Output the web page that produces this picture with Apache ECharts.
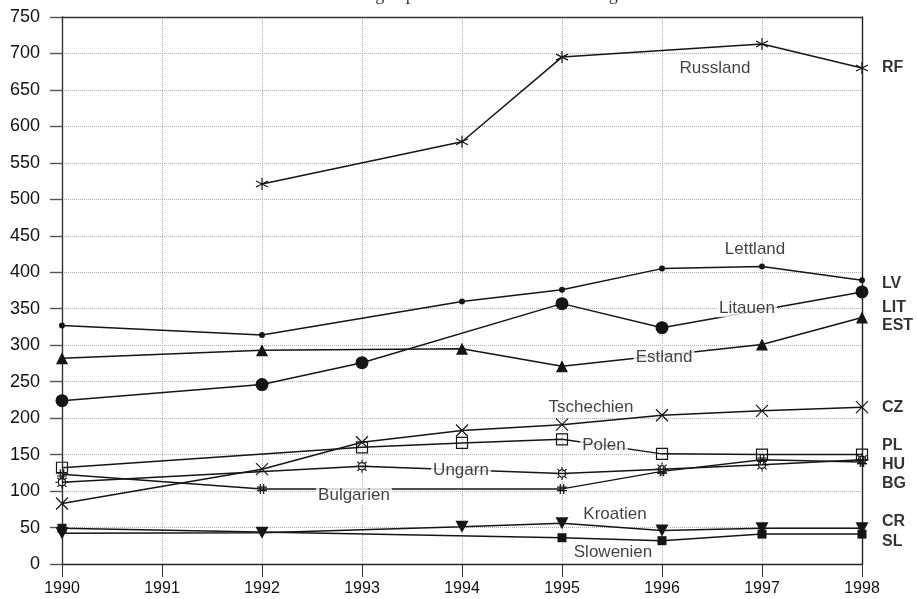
<!DOCTYPE html>
<html>
<head>
<meta charset="utf-8">
<script src="https://cdn.jsdelivr.net/npm/echarts@6/dist/echarts.min.js"></script>
<style>
html,body{margin:0;padding:0;background:#fff;}
#chart{width:917px;height:599px;}
</style>
</head>
<body>
<div id="chart"></div>
<script>
// ---- data ----
var years = [1990, 1991, 1992, 1993, 1994, 1995, 1996, 1997, 1998];
var yTicks = [0, 50, 100, 150, 200, 250, 300, 350, 400, 450, 500, 550, 600, 650, 700, 750];
var russland   = [null, null, 521, null, 579, 695, null, 713, 680];
var lettland   = [327, null, 314, null, 360, 376, 405, 408, 389];
var litauen    = [224, null, 246, 276, null, 357, 324, null, 373];
var estland    = [282, null, 293, null, 295, 271, null, 301, 338];
var tschechien = [83, null, 130, 167, 183, 191, 204, 210, 215];
var polen      = [132, null, null, 160, 166, 171, 151, 150, 150];
var ungarn     = [112, null, null, 134, null, 124, 130, 136, 143];
var bulgarien  = [123, null, 103, null, null, 103, 127, 143, 140];
var kroatien   = [42, null, 43, null, 51, 56, 46, 49, 49];
var slowenien  = [49, null, null, null, null, 36, 32, 41, 41];

var seriesNames = ['Russland', 'Lettland', 'Litauen', 'Estland', 'Tschechien', 'Polen', 'Ungarn', 'Bulgarien', 'Kroatien', 'Slowenien'];
var seriesCodes = ['RF', 'LV', 'LIT', 'EST', 'CZ', 'PL', 'HU', 'BG', 'CR', 'SL'];
var seriesValues = [russland, lettland, litauen, estland, tschechien, polen, ungarn, bulgarien, kroatien, slowenien];

// ---- annotation anchors (data coordinates) ----
var nameAnchors = [
  [1996.53, 680], [1996.93, 431], [1996.85, 350], [1996.02, 284], [1995.29, 215.5],
  [1995.42, 163.4], [1993.99, 127.8], [1992.92, 93.6], [1995.53, 67.5], [1995.51, 15.9]
];
var codeAnchors = [680, 384, 351, 327, 214, 162, 136, 110, 58, 31];

// ---- styling ----
var INK = '#151515';
var symbols = [
  {symbol: 'path://M5,0L5,10M0.7,2.5L9.3,7.5M0.7,7.5L9.3,2.5', size: 12, fill: 'none'},
  {symbol: 'circle', size: 6, fill: INK},
  {symbol: 'circle', size: 13, fill: INK},
  {symbol: 'triangle', size: 12, fill: INK},
  {symbol: 'path://M0,0L10,10M0,10L10,0', size: 12, fill: 'none'},
  {symbol: 'rect', size: 11, fill: 'rgba(255,255,255,0)'},
  {symbol: 'path://M7.8,5A2.8,2.8 0 1 1 2.2,5A2.8,2.8 0 1 1 7.8,5ZM5,0L5,1.6M5,8.4L5,10M0,5L1.6,5M8.4,5L10,5M1.5,1.5L2.7,2.7M7.3,7.3L8.5,8.5M1.5,8.5L2.7,7.3M7.3,2.7L8.5,1.5', size: 13, fill: 'rgba(255,255,255,0)'},
  {symbol: 'path://M3.3,0L3.3,10M6.7,0L6.7,10M0,3.3L10,3.3M0,6.7L10,6.7', size: 10, fill: 'none'},
  {symbol: 'path://M0,0L10,0L5,8.7Z', size: [13, 12], fill: INK},
  {symbol: 'rect', size: 9, fill: INK}
];

var series = [];
seriesNames.forEach(function (name, i) {
  var pts = [];
  years.forEach(function (yr, j) {
    if (seriesValues[i][j] !== null) pts.push([yr, seriesValues[i][j]]);
  });
  var s = symbols[i];
  series.push({
    name: name,
    type: 'line',
    data: pts,
    symbol: s.symbol,
    symbolSize: s.size,
    showSymbol: true,
    animation: false,
    lineStyle: {color: INK, width: 1.5},
    itemStyle: {color: s.fill, borderColor: INK, borderWidth: (s.fill === INK ? 0 : 1.2)},
    z: 3
  });
});

// in-plot names
series.push({
  type: 'scatter',
  animation: false,
  silent: true,
  clip: false,
  symbolSize: 0,
  z: 10,
  data: seriesNames.map(function (n, i) { return {name: n, value: nameAnchors[i]}; }),
  label: {
    show: true,
    position: 'inside',
    formatter: '{b}',
    color: '#111',
    fontFamily: 'Liberation Sans, Arial, sans-serif',
    fontSize: 17,
    backgroundColor: '#ffffff',
    padding: [0, 2]
  }
});

// right-side codes
series.push({
  type: 'scatter',
  animation: false,
  silent: true,
  clip: false,
  symbolSize: 0,
  z: 10,
  data: seriesCodes.map(function (c, i) { return {name: c, value: [years[years.length - 1], codeAnchors[i]]}; }),
  label: {
    show: true,
    position: 'right',
    distance: 20,
    formatter: '{b}',
    color: '#000',
    fontFamily: 'Liberation Sans, Arial, sans-serif',
    fontWeight: 'bold',
    fontSize: 16
  }
});

var chart = echarts.init(document.getElementById('chart'), null, {renderer: 'canvas'});
chart.setOption({
  backgroundColor: '#ffffff',
  animation: false,
  title: {
    text: 'Erkrankungen pro 100 000 der Bevölkerung',
    left: 'center',
    top: -19,
    textStyle: {fontFamily: 'Liberation Serif, serif', fontWeight: 'normal', fontSize: 18, color: '#333'}
  },
  grid: {left: 62, right: 55, top: 17, bottom: 35, containLabel: false},
  xAxis: [{
    type: 'value',
    min: years[0],
    max: years[years.length - 1],
    interval: 1,
    axisLine: {show: true, lineStyle: {color: '#222', width: 1.4}},
    axisTick: {show: true, length: 13, lineStyle: {color: '#333', width: 1}},
    axisLabel: {margin: 17, color: '#111', fontSize: 16, fontFamily: 'Liberation Sans, Arial, sans-serif', formatter: function (v) { return String(v); }},
    splitLine: {show: true, lineStyle: {color: '#b0b0b0', type: 'dotted', width: 1}}
  }, {
    type: 'value',
    position: 'top',
    min: years[0],
    max: years[years.length - 1],
    interval: 1,
    axisLine: {show: true, onZero: false, lineStyle: {color: '#333', width: 1.4}},
    axisTick: {show: false},
    axisLabel: {show: false},
    splitLine: {show: false}
  }],
  yAxis: [{
    type: 'value',
    min: yTicks[0],
    max: yTicks[yTicks.length - 1],
    interval: yTicks[1] - yTicks[0],
    axisLine: {show: true, onZero: false, lineStyle: {color: '#333', width: 1.4}},
    axisTick: {show: true, length: 12, lineStyle: {color: '#555', width: 1.4}},
    axisLabel: {margin: 22, color: '#111', fontSize: 18, fontFamily: 'Liberation Sans, Arial, sans-serif'},
    splitLine: {show: true, lineStyle: {color: '#b0b0b0', type: 'dotted', width: 1}}
  }, {
    type: 'value',
    position: 'right',
    min: yTicks[0],
    max: yTicks[yTicks.length - 1],
    interval: yTicks[1] - yTicks[0],
    axisLine: {show: true, onZero: false, lineStyle: {color: '#222', width: 1.4}},
    axisTick: {show: false},
    axisLabel: {show: false},
    splitLine: {show: false}
  }],
  series: series
});
</script>
</body>
</html>
